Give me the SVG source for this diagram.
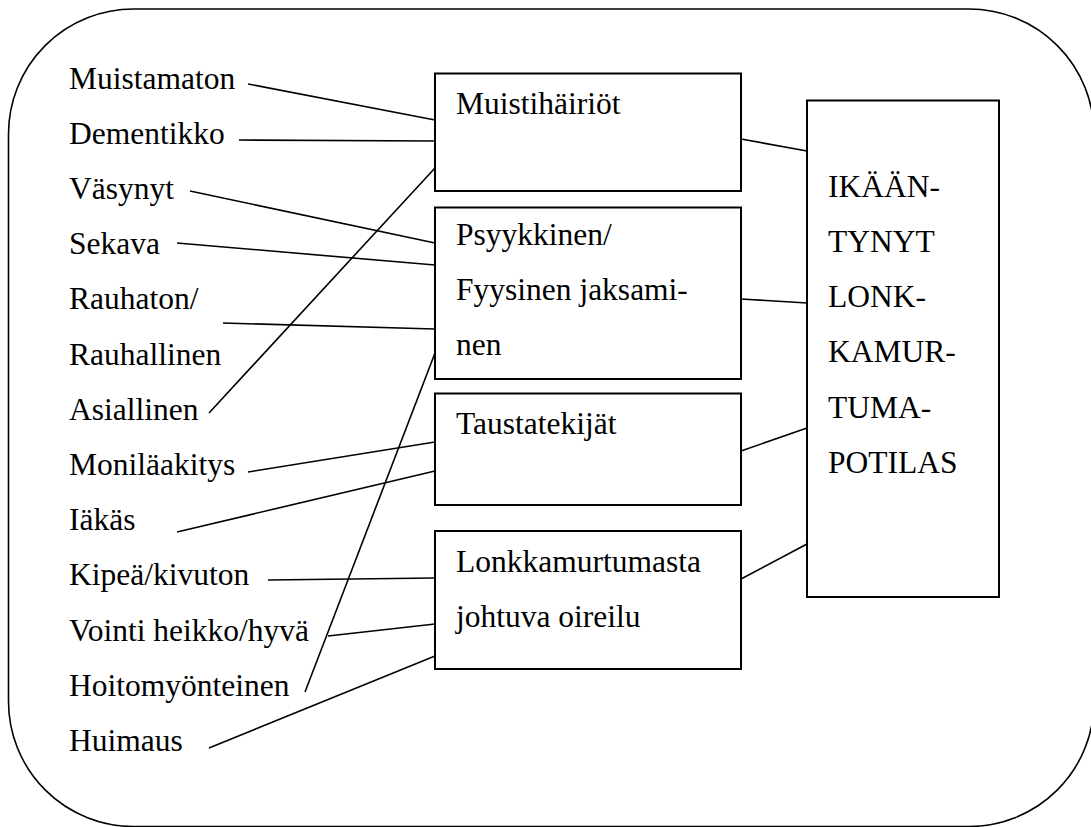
<svg xmlns="http://www.w3.org/2000/svg" width="1091" height="827" viewBox="0 0 1091 827">
<style>
  text { font-family: "Liberation Serif", "Times New Roman", Times, "DejaVu Serif", serif; font-size: 31.5px; fill: #000; }
  .box { fill: #fff; stroke: #000; stroke-width: 2; }
  .frame { fill: none; stroke: #000; stroke-width: 1.6; }
  .conn line { stroke: #000; stroke-width: 1.6; }
</style>
<rect width="1091" height="827" fill="#fff"/>
<rect class="frame" x="8.5" y="9" width="1085.5" height="817.5" rx="125" ry="125"/>

<g id="connectors" class="conn">
  <line x1="248" y1="84" x2="435" y2="120"/>
  <line x1="239" y1="140" x2="435" y2="141"/>
  <line x1="190" y1="191" x2="435" y2="243"/>
  <line x1="177" y1="243" x2="435" y2="265"/>
  <line x1="223" y1="323" x2="435" y2="329"/>
  <line x1="209" y1="413" x2="435" y2="168"/>
  <line x1="248" y1="472" x2="435" y2="442"/>
  <line x1="177" y1="532" x2="435" y2="471"/>
  <line x1="268" y1="580" x2="435" y2="578"/>
  <line x1="328" y1="636" x2="435" y2="624"/>
  <line x1="305" y1="692" x2="435" y2="353"/>
  <line x1="209" y1="748" x2="435" y2="656"/>
  <line x1="741" y1="139" x2="807" y2="151"/>
  <line x1="741" y1="299" x2="807" y2="303"/>
  <line x1="741" y1="451" x2="807" y2="428"/>
  <line x1="741" y1="579" x2="807" y2="544"/>
</g>

<g id="labels" font-family="Liberation Serif, Times New Roman, serif">
  <text x="69" y="88.5">Muistamaton</text>
  <text x="69" y="143.7">Dementikko</text>
  <text x="69" y="198.9">Väsynyt</text>
  <text x="69" y="254.1">Sekava</text>
  <text x="69" y="309.3">Rauhaton/</text>
  <text x="69" y="364.5">Rauhallinen</text>
  <text x="69" y="419.7">Asiallinen</text>
  <text x="69" y="474.9">Moniläakitys</text>
  <text x="69" y="530.1">Iäkäs</text>
  <text x="69" y="585.3">Kipeä/kivuton</text>
  <text x="69" y="640.5">Vointi heikko/hyvä</text>
  <text x="69" y="695.7">Hoitomyönteinen</text>
  <text x="69" y="750.9">Huimaus</text>
</g>

<g id="node-muistihairiot">
  <rect class="box" x="435" y="73.5" width="306" height="117.5"/>
  <text x="456" y="113.5">Muistihäiriöt</text>
</g>

<g id="node-psyykkinen">
  <rect class="box" x="435" y="207.5" width="306" height="171.5"/>
  <text x="456" y="245">Psyykkinen/</text>
  <text x="456" y="300.2">Fyysinen jaksami-</text>
  <text x="456" y="355.4">nen</text>
</g>

<g id="node-taustatekijat">
  <rect class="box" x="435" y="393.5" width="306" height="111.5"/>
  <text x="456" y="433.5">Taustatekijät</text>
</g>

<g id="node-lonkkamurtumasta">
  <rect class="box" x="435" y="531" width="306" height="138"/>
  <text x="456" y="571.7">Lonkkamurtumasta</text>
  <text x="456" y="626.9">johtuva oireilu</text>
</g>

<g id="node-potilas">
  <rect class="box" x="807" y="100.5" width="192" height="496.5"/>
  <text x="828" y="196.7">IKÄÄN-</text>
  <text x="828" y="251.9">TYNYT</text>
  <text x="828" y="307.1">LONK-</text>
  <text x="828" y="362.3">KAMUR-</text>
  <text x="828" y="417.5">TUMA-</text>
  <text x="828" y="472.7">POTILAS</text>
</g>
</svg>
